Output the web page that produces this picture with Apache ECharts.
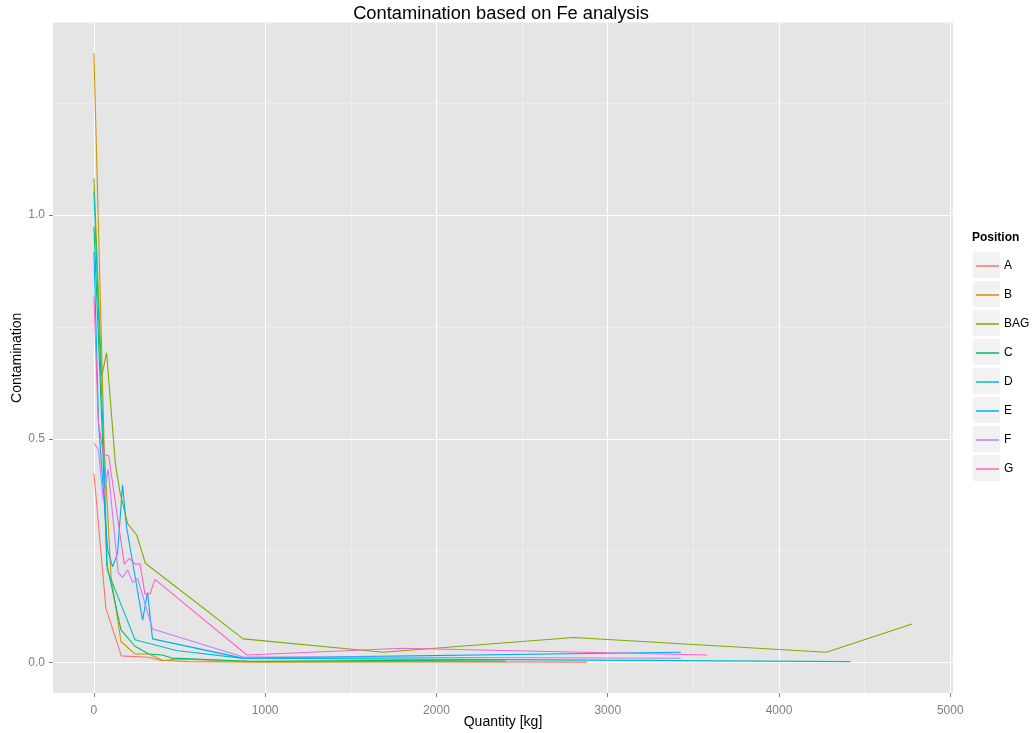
<!DOCTYPE html>
<html><head><meta charset="utf-8">
<script src="https://cdn.jsdelivr.net/npm/echarts@6/dist/echarts.min.js"></script>
<style>html,body{margin:0;padding:0;background:#fff}#c{width:1036px;height:733px}</style>
</head><body><div id="c"></div><script>
// ---- data (Quantity [kg], Contamination) ----
const categories = ['A','B','BAG','C','D','E','F','G'];
const colors = ['#F8766D','#CD9600','#7CAE00','#00BE67','#00BFC4','#00A9FF','#C77CFF','#FF61CC'];
const posA = [[0,0.423],[70,0.121],[160,0.015],[320,0.012],[400,0.004],[480,0.008],[900,0.003],[2880,0.001]];
const posB = [[0,1.362],[60,0.48],[100,0.192],[158,0.047],[240,0.019],[320,0.019],[400,0.005],[550,0.002],[1000,0.001],[2409,0.002]];
const posBAG = [[0,1.082],[45,0.639],[74,0.692],[125,0.445],[152,0.38],[197,0.31],[250,0.285],[300,0.222],[872,0.053],[1690,0.023],[2800,0.056],[4277,0.023],[4777,0.086]];
const posC = [[0,0.974],[50,0.5],[75,0.22],[158,0.073],[238,0.037],[320,0.019],[400,0.017],[455,0.01],[900,0.003],[2400,0.006]];
const posD = [[0,1.052],[55,0.5],[78,0.207],[240,0.051],[480,0.027],[860,0.01],[4418,0.002]];
const posE = [[0,0.918],[27,0.535],[80,0.252],[109,0.214],[138,0.244],[167,0.397],[190,0.304],[284,0.095],[313,0.157],[342,0.053],[868,0.01],[3427,0.023]];
const posF = [[0,0.49],[27,0.475],[54,0.363],[83,0.432],[142,0.201],[167,0.19],[197,0.207],[226,0.179],[255,0.188],[342,0.075],[868,0.013],[3427,0.0098]];
const posG = [[0,0.818],[25,0.54],[55,0.465],[86,0.462],[177,0.22],[206,0.233],[241,0.22],[269,0.22],[298,0.153],[327,0.153],[356,0.186],[893,0.017],[1800,0.032],[3581,0.017]];
const seriesData = [posA,posB,posBAG,posC,posD,posE,posF,posG];
const xTicks = [0,1000,2000,3000,4000,5000];
const xMinor = [500,1500,2500,3500,4500];
const yTicks = [0,0.5,1.0];
const yMinor = [0.25,0.75,1.25];

const chart = echarts.init(document.getElementById('c'), null, {renderer:'canvas'});
const FONT = 'Liberation Sans, Arial, sans-serif';
const gridBox = {left:53, right:83, top:22.5, bottom:40};

const series = categories.map((c,i)=>({
  name:c, type:'line', xAxisIndex:0, yAxisIndex:0,
  data:seriesData[i], showSymbol:false, symbol:'none',
  lineStyle:{width:1.1, color:colors[i]}, itemStyle:{color:colors[i]},
  emphasis:{disabled:true}, z:3+i
}));

// legend key backgrounds
const legendTop0 = 251, legendStep = 29;
const keyRects = categories.map((c,i)=>({
  type:'rect', left:972, top:legendTop0 + i*legendStep,
  shape:{width:28, height:27},
  style:{fill:'#F2F2F2', stroke:'#ffffff', lineWidth:1}, z:0
}));

chart.setOption({
  animation:false,
  backgroundColor:'#ffffff',
  textStyle:{fontFamily:FONT},
  title:[
    {text:'Contamination based on Fe analysis', left:501, top:5, textAlign:'center', padding:0,
     textStyle:{fontSize:18.3, fontWeight:'normal', color:'#000', fontFamily:FONT}},
    {text:'Position', left:972, top:232, padding:0,
     textStyle:{fontSize:12, fontWeight:'bold', color:'#000', fontFamily:FONT}}
  ],
  graphic: keyRects,
  legend:{
    orient:'vertical', left:976, top:259, padding:0, itemWidth:23, itemHeight:1.5, itemGap:15,
    icon:'rect', data:categories,
    textStyle:{fontSize:12, color:'#000', lineHeight:14, fontFamily:FONT}
  },
  grid:{...gridBox, show:true, backgroundColor:'#E5E5E5', borderWidth:0, containLabel:false, outerBoundsMode:'none'},
  xAxis:[
    {type:'value', min:-239, max:5016, name:'Quantity [kg]', nameLocation:'middle', nameGap:22, nameMoveOverlap:false,
     nameTextStyle:{fontSize:14, color:'#000', fontFamily:FONT},
     axisLine:{show:false, onZero:false},
     axisTick:{show:true, length:4, lineStyle:{color:'#7F7F7F'}, customValues:xTicks},
     axisLabel:{show:true, color:'#7F7F7F', fontSize:12, margin:12, customValues:xTicks, formatter:v=>String(v)},
     splitLine:{show:true, lineStyle:{color:'#FFFFFF', width:1.1}}, z:2},
    {type:'value', min:-239, max:5016, gridIndex:0, position:'bottom', show:true,
     axisLine:{show:false, onZero:false}, axisTick:{show:false, customValues:xMinor}, axisLabel:{show:false, customValues:xMinor},
     splitLine:{show:true, lineStyle:{color:'#F2F2F2', width:0.6}}, z:1}
  ],
  yAxis:[
    {type:'value', min:-0.068, max:1.43, name:'Contamination', nameLocation:'middle', nameGap:29, nameMoveOverlap:false,
     nameTextStyle:{fontSize:14, color:'#000', fontFamily:FONT},
     axisLine:{show:false, onZero:false},
     axisTick:{show:true, length:4, lineStyle:{color:'#7F7F7F'}, customValues:yTicks},
     axisLabel:{show:true, color:'#7F7F7F', fontSize:12, margin:8, customValues:yTicks,
       formatter:v=>v.toFixed(1)},
     splitLine:{show:true, lineStyle:{color:'#FFFFFF', width:1.1}}, z:2},
    {type:'value', min:-0.068, max:1.43, gridIndex:0, position:'left', show:true,
     axisLine:{show:false, onZero:false}, axisTick:{show:false, customValues:yMinor}, axisLabel:{show:false, customValues:yMinor},
     splitLine:{show:true, lineStyle:{color:'#F2F2F2', width:0.6}}, z:1}
  ],
  series: series
});
</script></body></html>
